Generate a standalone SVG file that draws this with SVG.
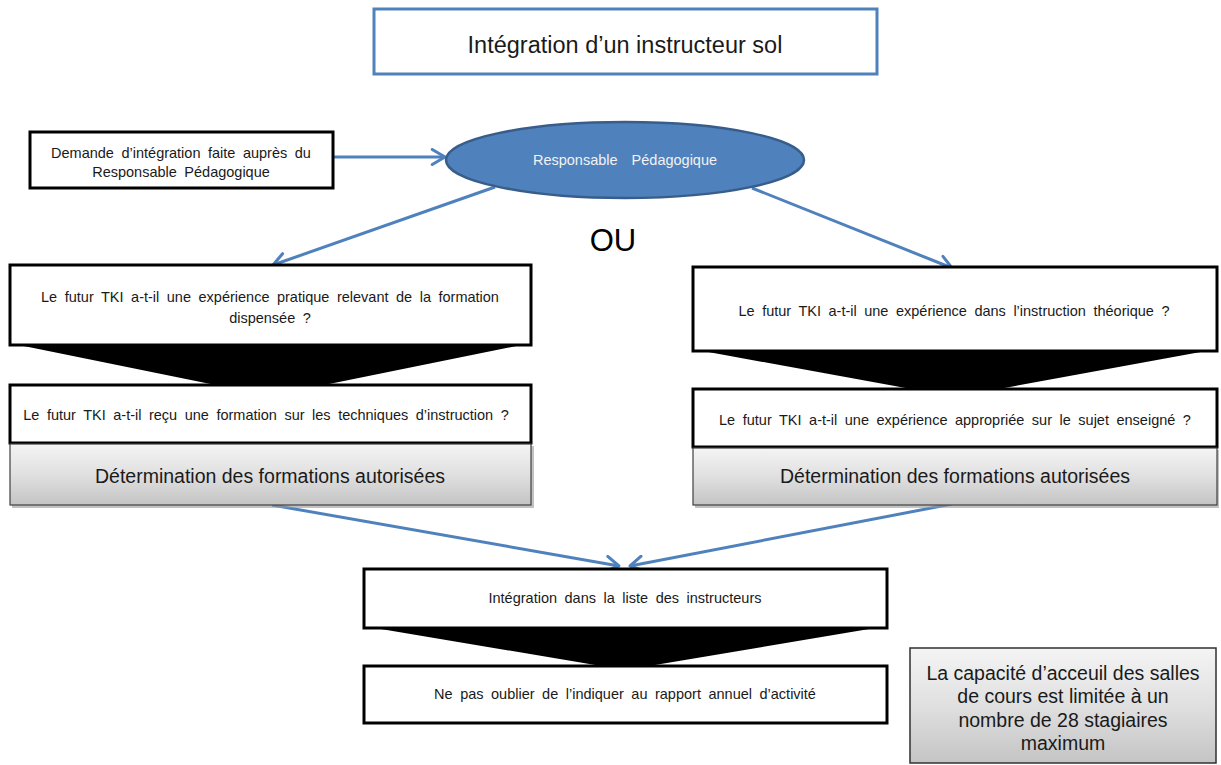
<svg xmlns="http://www.w3.org/2000/svg" width="1221" height="765" viewBox="0 0 1221 765">
  <defs>
    <style>
      .box { fill: #ffffff; stroke: #000000; stroke-width: 3; }
      .funnel { fill: #000000; }
      .grey { fill: url(#greyGrad); stroke: #404040; stroke-width: 1.2; }
      .shadow { fill: #9a9a9a; opacity: 0.6; }
      .t { font-family: "Liberation Sans", Arial, sans-serif; fill: #1a1a1a; text-anchor: middle; }
      .s { font-size: 14.5px; word-spacing: 3.5px; }
      .m { font-size: 19.5px; }
      .conn { stroke: #4F81BD; stroke-width: 3; fill: none; marker-end: url(#arrow); }
    </style>
    <linearGradient id="greyGrad" x1="0" y1="0" x2="0" y2="1">
      <stop offset="0" stop-color="#f4f4f4"/>
      <stop offset="0.5" stop-color="#e0e0e0"/>
      <stop offset="1" stop-color="#c4c4c4"/>
    </linearGradient>
    <marker id="arrow" markerUnits="userSpaceOnUse" markerWidth="18" markerHeight="18" viewBox="0 0 12 12" refX="10.5" refY="6" orient="auto">
      <path d="M2,1 L10.5,6 L2,11" fill="none" stroke="#4F81BD" stroke-width="2" stroke-linecap="round" stroke-linejoin="round"/>
    </marker>
  </defs>

  <rect width="1221" height="765" fill="#ffffff"/>

  <!-- title -->
  <g id="title">
    <rect x="374" y="9" width="503" height="65" fill="#ffffff" stroke="#4F81BD" stroke-width="3"/>
    <text class="t" x="625" y="53" font-size="23.5">Intégration d’un instructeur sol</text>
  </g>

  <!-- connectors -->
  <g id="connectors">
    <line class="conn" x1="333" y1="157" x2="445" y2="157"/>
    <line class="conn" x1="495" y1="187" x2="273" y2="265"/>
    <line class="conn" x1="752" y1="188" x2="952" y2="268"/>
    <line class="conn" x1="272" y1="505" x2="619" y2="566"/>
    <line class="conn" x1="952" y1="504" x2="630" y2="566"/>
  </g>

  <!-- request -->
  <g id="demande">
    <rect class="box" x="30" y="132" width="303" height="56"/>
    <text class="t s" x="181" y="158">Demande d’intégration faite auprès du</text>
    <text class="t s" x="181" y="177">Responsable  Pédagogique</text>
  </g>

  <!-- pedagogical manager -->
  <g id="responsable">
    <ellipse cx="625" cy="160" rx="179" ry="38" fill="#4F81BD" stroke="#385D8A" stroke-width="2.5"/>
    <text class="t s" x="625" y="165" style="fill:#f2f2f2;word-spacing:10px">Responsable Pédagogique</text>
  </g>

  <g id="ou">
    <text class="t" x="613" y="251" font-size="31" style="fill:#000000">OU</text>
  </g>

  <!-- left branch -->
  <g id="gauche">
    <polygon class="funnel" points="9,343 531,343 270,396"/>
    <rect class="box" x="10" y="265" width="521" height="80"/>
    <text class="t s" x="270" y="302">Le futur TKI a-t-il une expérience pratique relevant de la formation</text>
    <text class="t s" x="270" y="323">dispensée ?</text>
    <rect class="box" x="10" y="385" width="521" height="58"/>
    <text class="t s" x="266" y="420">Le futur TKI a-t-il reçu une formation sur les techniques d’instruction ?</text>
    <rect class="shadow" x="12" y="446" width="522" height="62"/>
    <rect class="grey" x="10" y="444" width="521" height="61"/>
    <text class="t m" x="270" y="483">Détermination des formations autorisées</text>
  </g>

  <!-- right branch -->
  <g id="droite">
    <polygon class="funnel" points="692,349 1217,349 955,397"/>
    <rect class="box" x="693" y="267" width="524" height="84"/>
    <text class="t s" x="954" y="316">Le futur TKI a-t-il une expérience dans l’instruction théorique ?</text>
    <rect class="box" x="693" y="389" width="524" height="58"/>
    <text class="t s" x="955" y="425">Le futur TKI a-t-il une expérience appropriée sur le sujet enseigné ?</text>
    <rect class="shadow" x="695" y="450" width="524" height="58"/>
    <rect class="grey" x="693" y="448" width="524" height="57"/>
    <text class="t m" x="955" y="483">Détermination des formations autorisées</text>
  </g>

  <!-- integration -->
  <g id="integration">
    <polygon class="funnel" points="363,626 887,626 625,670"/>
    <rect class="box" x="364" y="569" width="523" height="59"/>
    <text class="t s" x="625" y="603">Intégration dans la liste des instructeurs</text>
    <rect class="box" x="364" y="666" width="523" height="57"/>
    <text class="t s" x="625" y="699">Ne pas oublier de l’indiquer au rapport annuel d’activité</text>
  </g>

  <!-- capacity note -->
  <g id="capacite">
    <rect class="grey" x="910" y="648" width="306" height="115" style="stroke:#303030;stroke-width:1.5"/>
    <text class="t m" x="1063" y="680">La capacité d’acceuil des salles</text>
    <text class="t m" x="1063" y="703">de cours est limitée à un</text>
    <text class="t m" x="1063" y="727">nombre de 28 stagiaires</text>
    <text class="t m" x="1063" y="750">maximum</text>
  </g>
</svg>
